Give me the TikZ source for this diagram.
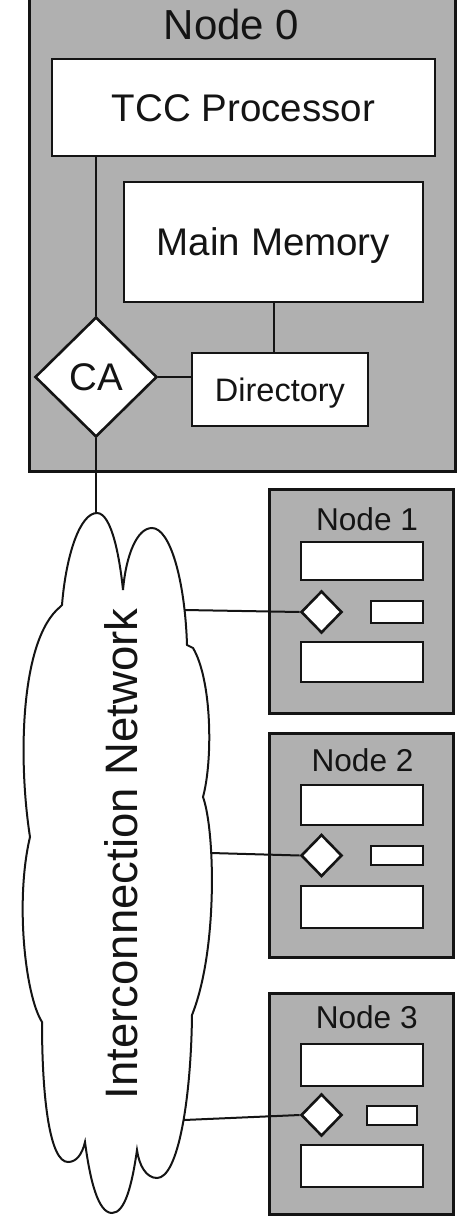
\documentclass[tikz,border=0pt]{standalone}
\usepackage{fontspec}
\setmainfont{Liberation Sans}
\usetikzlibrary{shapes.geometric}
\definecolor{boxgray}{RGB}{176,176,176}
\definecolor{ink}{RGB}{20,20,20}

\begin{document}
\begin{tikzpicture}[x=1pt,y=-1pt,
  nodebox/.style={rectangle, draw=ink, fill=boxgray, line width=3, inner sep=0},
  part/.style={rectangle, draw=ink, fill=white, line width=2.6, inner sep=0, text=ink},
  gate/.style={diamond, draw=ink, fill=white, line width=2.6, inner sep=0, text=ink},
  link/.style={draw=ink, line width=2},
  caption/.style={inner sep=0, anchor=base, text=ink},
  bigtext/.style={font=\fontsize{38.5}{44}\selectfont, text height=27.6pt, text depth=0pt},
  midtext/.style={font=\fontsize{32.5}{38}\selectfont, text height=23.3pt, text depth=0pt},
  labtext/.style={font=\fontsize{31.6}{36}\selectfont},
]
\useasboundingbox (0,0) rectangle (458,1217);

% ---- Node 0: processor, memory, directory and communication assist
\node[nodebox, minimum width=426, minimum height=481] (n0) at (242,230.5) {};
\node[caption, font=\fontsize{42}{48}\selectfont] (n0lab) at (231.5,40) {Node 0};
\node[part, bigtext, minimum width=383, minimum height=97] (tcc) at (243.5,107.5) {TCC Processor};
\node[part, bigtext, minimum width=299, minimum height=120] (mm) at (273.5,242) {Main Memory};
\node[part, midtext, minimum width=176, minimum height=73] (dir) at (280,389.5) {Directory};
\node[gate, bigtext, minimum width=122, minimum height=120] (ca) at (96,377) {CA};

\draw[link] (ca.north) -- (ca.north |- tcc.south);
\draw[link] (mm.south) -- (mm.south |- dir.north);
\draw[link] (ca.east) -- (ca.east -| dir.west);

% ---- Interconnection network cloud
\coordinate (ctop) at (97,513);
\coordinate (c1) at (184.5,610);
\coordinate (c2) at (211,853);
\coordinate (c3) at (184,1120);
\draw[link, fill=white]
  (62,605) .. controls (66,555) and (80,513) .. (ctop)
  .. controls (112,513) and (120,560) .. (123,590)
  .. controls (126,555) and (137,528) .. (152,528)
  .. controls (170,528) and (185,580) .. (187,645)
  -- (193,648)
  .. controls (212,680) and (213,760) .. (203,797)
  .. controls (215,830) and (218,950) .. (192,1015)
  .. controls (191,1100) and (178,1178) .. (157,1178)
  .. controls (146,1178) and (139,1165) .. (137,1150)
  .. controls (132,1185) and (125,1213) .. (112,1213)
  .. controls (98,1213) and (90,1180) .. (85,1142)
  .. controls (82,1155) and (76,1162) .. (68,1162)
  .. controls (50,1162) and (42,1100) .. (42,1022)
  .. controls (25,995) and (15,900) .. (30,837)
  .. controls (18,760) and (20,640) .. (60,607)
  -- cycle;
\node[rotate=90, inner sep=0, text=ink, font=\fontsize{45.5}{50}\selectfont,
      text height=32.6pt, text depth=0pt] (net) at (121,854) {Interconnection Network};
\draw[link] (ca.south) -- (ca.south |- ctop);

% ---- Node 1
\node[nodebox, minimum width=184, minimum height=224] (n1) at (361,601) {};
\node[caption, labtext] (n1lab) at (367,530) {Node 1};
\node[part, minimum width=122, minimum height=38] (p1) at (362,561) {};
\node[gate, minimum width=41, minimum height=42] (d1) at (321.5,612) {};
\node[part, minimum width=52, minimum height=22] (s1) at (397,612) {};
\node[part, minimum width=122, minimum height=40] (m1) at (362,662) {};

% ---- Node 2
\node[nodebox, minimum width=184, minimum height=224] (n2) at (361,845) {};
\node[caption, labtext] (n2lab) at (362.5,771.7) {Node 2};
\node[part, minimum width=122, minimum height=40] (p2) at (362,805) {};
\node[gate, minimum width=41, minimum height=42] (d2) at (321.5,855.5) {};
\node[part, minimum width=52, minimum height=19] (s2) at (397,855.5) {};
\node[part, minimum width=122, minimum height=42] (m2) at (362,907) {};

% ---- Node 3
\node[nodebox, minimum width=184, minimum height=221] (n3) at (361,1103.5) {};
\node[caption, labtext] (n3lab) at (366.7,1028) {Node 3};
\node[part, minimum width=122, minimum height=42] (p3) at (362,1065) {};
\node[gate, minimum width=41, minimum height=42] (d3) at (321.5,1115) {};
\node[part, minimum width=50, minimum height=19] (s3) at (392,1115.5) {};
\node[part, minimum width=122, minimum height=42] (m3) at (362,1166) {};

% ---- network links to the remote nodes
\draw[link] (c1) -- (d1.west);
\draw[link] (c2) -- (d2.west);
\draw[link] (c3) -- (d3.west);
\end{tikzpicture}
\end{document}
